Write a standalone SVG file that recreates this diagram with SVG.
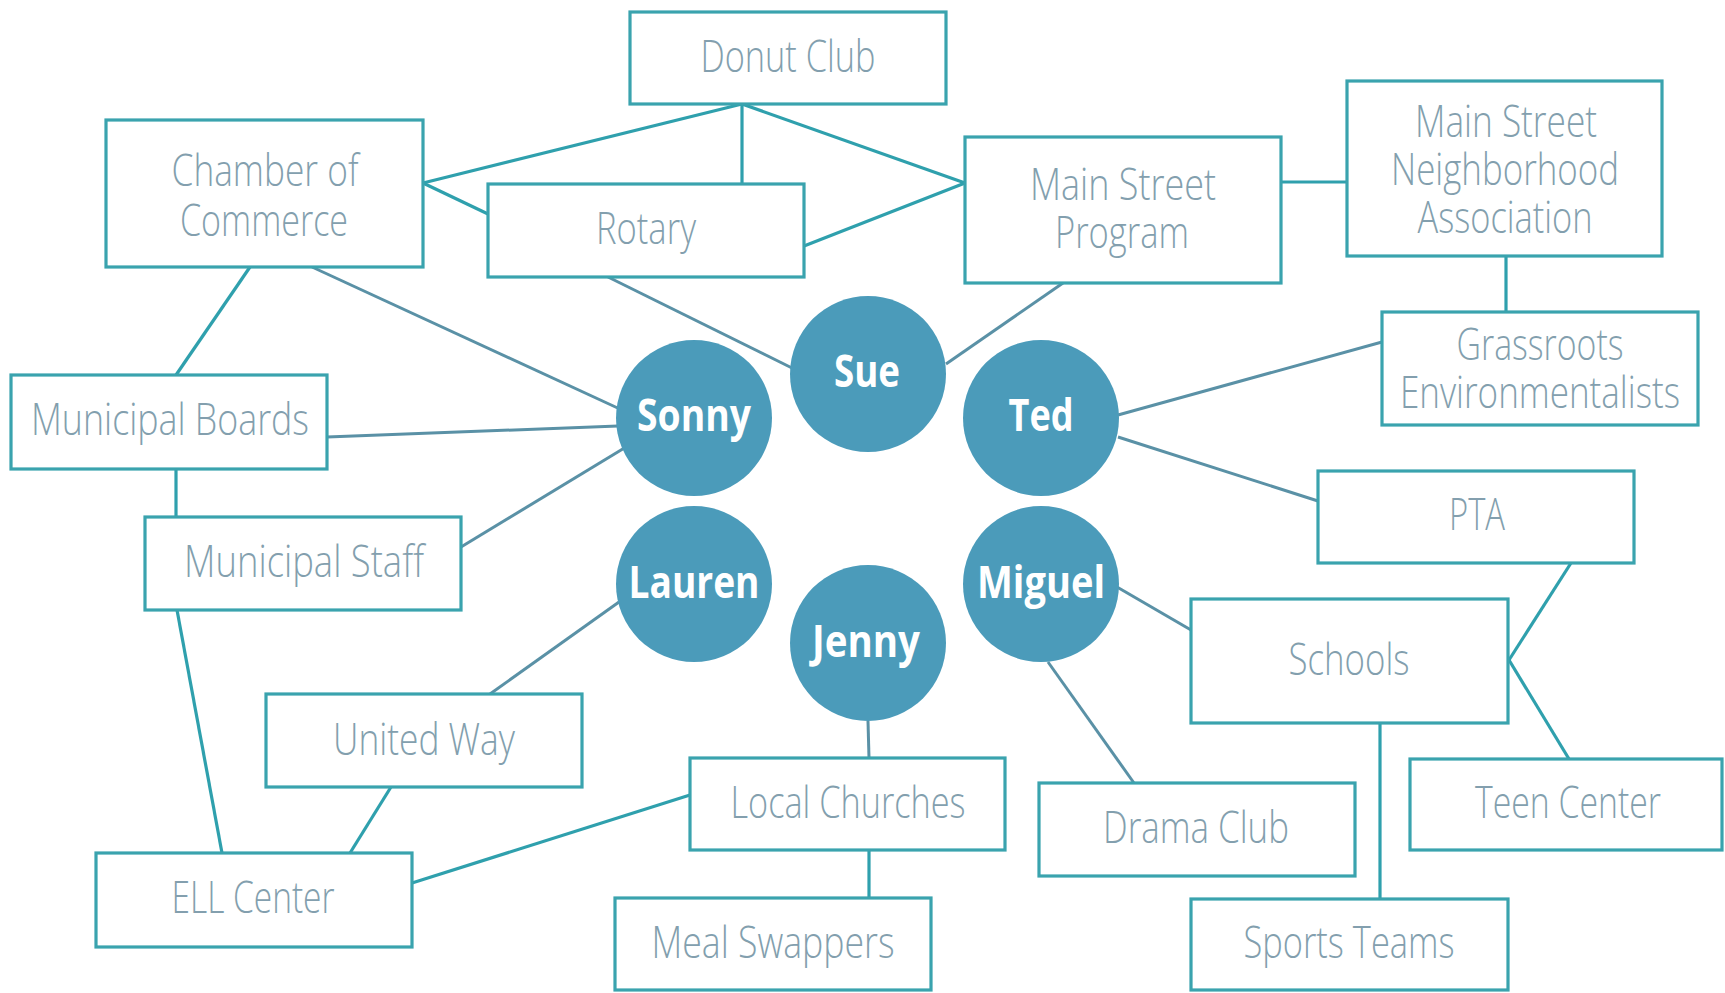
<svg xmlns="http://www.w3.org/2000/svg" width="1725" height="993" viewBox="0 0 1725 993">
<style>
.box{fill:#ffffff;stroke:#3aa3ae;stroke-width:3.2}
.lbl{font-family:"Open Sans","Liberation Sans",sans-serif;font-weight:300;font-size:44px;fill:#839fae;text-anchor:middle}
.per{fill:#4b9bba}
.name{font-family:"Open Sans","Liberation Sans",sans-serif;font-weight:700;font-size:44px;fill:#ffffff;text-anchor:middle}
.cb{stroke:#2fa0ad;stroke-width:3.2;fill:none}
.cp{stroke:#5a91a6;stroke-width:3;fill:none}
</style>
<rect width="1725" height="993" fill="#ffffff"/>
<g id="connectors">
<line class="cb" x1="742" y1="104" x2="423" y2="183"/>
<line class="cb" x1="742" y1="104" x2="742" y2="184"/>
<line class="cb" x1="742" y1="104" x2="965" y2="183"/>
<line class="cb" x1="423" y1="183" x2="488" y2="214"/>
<line class="cb" x1="804" y1="246" x2="965" y2="183"/>
<line class="cb" x1="1281" y1="182" x2="1347" y2="182"/>
<line class="cb" x1="1506" y1="256" x2="1506" y2="312"/>
<line class="cb" x1="250" y1="267" x2="176" y2="375"/>
<line class="cb" x1="176" y1="469" x2="176" y2="517"/>
<line class="cb" x1="177" y1="610" x2="222" y2="853"/>
<line class="cb" x1="391" y1="787" x2="350" y2="853"/>
<line class="cb" x1="412" y1="883" x2="690" y2="795"/>
<line class="cb" x1="869" y1="850" x2="869" y2="898"/>
<line class="cb" x1="1571" y1="563" x2="1509" y2="660"/>
<line class="cb" x1="1509" y1="660" x2="1569" y2="759"/>
<line class="cb" x1="1380" y1="723" x2="1380" y2="899"/>
<line class="cp" x1="312" y1="267" x2="622" y2="410"/>
<line class="cp" x1="327" y1="437" x2="618" y2="426"/>
<line class="cp" x1="461" y1="547" x2="626" y2="447"/>
<line class="cp" x1="608" y1="277" x2="792" y2="368"/>
<line class="cp" x1="1063" y1="283" x2="946" y2="364"/>
<line class="cp" x1="1118" y1="415" x2="1382" y2="342"/>
<line class="cp" x1="1118" y1="437" x2="1318" y2="501"/>
<line class="cp" x1="619" y1="602" x2="490" y2="694"/>
<line class="cp" x1="868" y1="721" x2="869" y2="758"/>
<line class="cp" x1="1117" y1="587" x2="1191" y2="630"/>
<line class="cp" x1="1048" y1="662" x2="1134" y2="783"/>
</g>
<g id="donut-club"><rect class="box" x="630" y="12" width="316" height="92"/><text class="lbl" x="788" y="72" textLength="175" lengthAdjust="spacingAndGlyphs">Donut Club</text></g>
<g id="chamber-of-commerce"><rect class="box" x="106" y="120" width="317" height="147"/><text class="lbl" x="265" y="186" textLength="187" lengthAdjust="spacingAndGlyphs">Chamber of</text><text class="lbl" x="264" y="236" textLength="168" lengthAdjust="spacingAndGlyphs">Commerce</text></g>
<g id="rotary"><rect class="box" x="488" y="184" width="316" height="93"/><text class="lbl" x="646" y="244" textLength="100" lengthAdjust="spacingAndGlyphs">Rotary</text></g>
<g id="main-street-program"><rect class="box" x="965" y="137" width="316" height="146"/><text class="lbl" x="1123" y="200" textLength="186" lengthAdjust="spacingAndGlyphs">Main Street</text><text class="lbl" x="1122" y="248" textLength="134" lengthAdjust="spacingAndGlyphs">Program</text></g>
<g id="main-street-neighborhood-association"><rect class="box" x="1347" y="81" width="315" height="175"/><text class="lbl" x="1506" y="137" textLength="182" lengthAdjust="spacingAndGlyphs">Main Street</text><text class="lbl" x="1505" y="185" textLength="228" lengthAdjust="spacingAndGlyphs">Neighborhood</text><text class="lbl" x="1505" y="233" textLength="175" lengthAdjust="spacingAndGlyphs">Association</text></g>
<g id="grassroots-environmentalists"><rect class="box" x="1382" y="312" width="316" height="113"/><text class="lbl" x="1540" y="360" textLength="167" lengthAdjust="spacingAndGlyphs">Grassroots</text><text class="lbl" x="1540" y="408" textLength="280" lengthAdjust="spacingAndGlyphs">Environmentalists</text></g>
<g id="pta"><rect class="box" x="1318" y="471" width="316" height="92"/><text class="lbl" x="1477" y="530" textLength="56" lengthAdjust="spacingAndGlyphs">PTA</text></g>
<g id="municipal-boards"><rect class="box" x="11" y="375" width="316" height="94"/><text class="lbl" x="170" y="435" textLength="278" lengthAdjust="spacingAndGlyphs">Municipal Boards</text></g>
<g id="municipal-staff"><rect class="box" x="145" y="517" width="316" height="93"/><text class="lbl" x="304" y="577" textLength="240" lengthAdjust="spacingAndGlyphs">Municipal Staff</text></g>
<g id="united-way"><rect class="box" x="266" y="694" width="316" height="93"/><text class="lbl" x="424" y="755" textLength="182" lengthAdjust="spacingAndGlyphs">United Way</text></g>
<g id="ell-center"><rect class="box" x="96" y="853" width="316" height="94"/><text class="lbl" x="253" y="913" textLength="163" lengthAdjust="spacingAndGlyphs">ELL Center</text></g>
<g id="local-churches"><rect class="box" x="690" y="758" width="315" height="92"/><text class="lbl" x="848" y="818" textLength="235" lengthAdjust="spacingAndGlyphs">Local Churches</text></g>
<g id="meal-swappers"><rect class="box" x="615" y="898" width="316" height="92"/><text class="lbl" x="773" y="958" textLength="243" lengthAdjust="spacingAndGlyphs">Meal Swappers</text></g>
<g id="drama-club"><rect class="box" x="1039" y="783" width="316" height="93"/><text class="lbl" x="1196" y="843" textLength="186" lengthAdjust="spacingAndGlyphs">Drama Club</text></g>
<g id="schools"><rect class="box" x="1191" y="599" width="317" height="124"/><text class="lbl" x="1349" y="675" textLength="121" lengthAdjust="spacingAndGlyphs">Schools</text></g>
<g id="teen-center"><rect class="box" x="1410" y="759" width="312" height="91"/><text class="lbl" x="1568" y="818" textLength="186" lengthAdjust="spacingAndGlyphs">Teen Center</text></g>
<g id="sports-teams"><rect class="box" x="1191" y="899" width="317" height="91"/><text class="lbl" x="1349" y="958" textLength="211" lengthAdjust="spacingAndGlyphs">Sports Teams</text></g>
<g id="sue"><circle class="per" cx="868" cy="374" r="78"/><text class="name" x="867" y="387" textLength="66" lengthAdjust="spacingAndGlyphs">Sue</text></g>
<g id="sonny"><circle class="per" cx="694" cy="418" r="78"/><text class="name" x="694" y="431" textLength="114" lengthAdjust="spacingAndGlyphs">Sonny</text></g>
<g id="ted"><circle class="per" cx="1041" cy="418" r="78"/><text class="name" x="1041" y="431" textLength="65" lengthAdjust="spacingAndGlyphs">Ted</text></g>
<g id="lauren"><circle class="per" cx="694" cy="584" r="78"/><text class="name" x="694" y="598" textLength="131" lengthAdjust="spacingAndGlyphs">Lauren</text></g>
<g id="miguel"><circle class="per" cx="1041" cy="584" r="78"/><text class="name" x="1041" y="598" textLength="128" lengthAdjust="spacingAndGlyphs">Miguel</text></g>
<g id="jenny"><circle class="per" cx="868" cy="643" r="78"/><text class="name" x="866" y="657" textLength="108" lengthAdjust="spacingAndGlyphs">Jenny</text></g>
</svg>
